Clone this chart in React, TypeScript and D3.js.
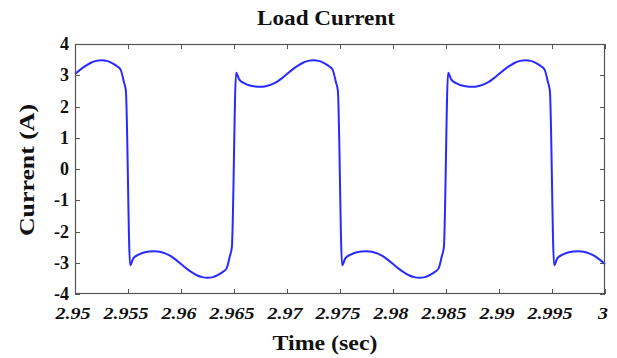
import React, { useEffect, useRef } from 'react';
import * as d3 from 'd3';

// Time samples (sec)
const TIME = [
  2.9500, 2.9505, 2.9510, 2.9515, 2.9520, 2.9525, 2.9530, 2.9535, 2.9540, 2.9543, 2.9546, 2.9548,
  2.9552, 2.9555, 2.9560, 2.9565, 2.9570, 2.9575, 2.9580, 2.9585, 2.9590, 2.9595, 2.9600, 2.9605,
  2.9610, 2.9615, 2.9620, 2.9625, 2.9630, 2.9635, 2.9640, 2.9643, 2.9646, 2.9648,
  2.9652, 2.9655, 2.9660, 2.9665, 2.9670, 2.9675, 2.9680, 2.9685, 2.9690, 2.9695, 2.9700, 2.9705,
  2.9710, 2.9715, 2.9720, 2.9725, 2.9730, 2.9735, 2.9740, 2.9743, 2.9746, 2.9748,
  2.9752, 2.9755, 2.9760, 2.9765, 2.9770, 2.9775, 2.9780, 2.9785, 2.9790, 2.9795, 2.9800, 2.9805,
  2.9810, 2.9815, 2.9820, 2.9825, 2.9830, 2.9835, 2.9840, 2.9843, 2.9846, 2.9848,
  2.9852, 2.9855, 2.9860, 2.9865, 2.9870, 2.9875, 2.9880, 2.9885, 2.9890, 2.9895, 2.9900, 2.9905,
  2.9910, 2.9915, 2.9920, 2.9925, 2.9930, 2.9935, 2.9940, 2.9943, 2.9946, 2.9948,
  2.9952, 2.9955, 2.9960, 2.9965, 2.9970, 2.9975, 2.9980, 2.9985, 2.9990, 2.9995, 3.0000
];

// Load current (A) at each sample
const CURRENT = [
  3.04, 3.18, 3.30, 3.40, 3.46, 3.48, 3.46, 3.39, 3.28, 3.18, 2.80, 2.50,
  -3.08, -2.86, -2.74, -2.67, -2.64, -2.63, -2.65, -2.70, -2.78, -2.90, -3.04, -3.18,
  -3.30, -3.40, -3.46, -3.48, -3.46, -3.39, -3.28, -3.18, -2.80, -2.50,
  3.08, 2.86, 2.74, 2.67, 2.64, 2.63, 2.65, 2.70, 2.78, 2.90, 3.04, 3.18,
  3.30, 3.40, 3.46, 3.48, 3.46, 3.39, 3.28, 3.18, 2.80, 2.50,
  -3.08, -2.86, -2.74, -2.67, -2.64, -2.63, -2.65, -2.70, -2.78, -2.90, -3.04, -3.18,
  -3.30, -3.40, -3.46, -3.48, -3.46, -3.39, -3.28, -3.18, -2.80, -2.50,
  3.08, 2.86, 2.74, 2.67, 2.64, 2.63, 2.65, 2.70, 2.78, 2.90, 3.04, 3.18,
  3.30, 3.40, 3.46, 3.48, 3.46, 3.39, 3.28, 3.18, 2.80, 2.50,
  -3.08, -2.86, -2.74, -2.67, -2.64, -2.63, -2.65, -2.70, -2.78, -2.90, -3.04
];

const X_TICKS = [2.95, 2.955, 2.96, 2.965, 2.97, 2.975, 2.98, 2.985, 2.99, 2.995, 3];
const X_TICK_LABELS = ['2.95', '2.955', '2.96', '2.965', '2.97', '2.975', '2.98', '2.985', '2.99', '2.995', '3'];
const Y_TICKS = [4, 3, 2, 1, 0, -1, -2, -3, -4];
const Y_TICK_LABELS = ['4', '3', '2', '1', '0', '-1', '-2', '-3', '-4'];

const SERIF = '"Liberation Serif", "Times New Roman", serif';

const App = () => {
  const svgRef = useRef<SVGSVGElement>(null);

  useEffect(() => {
    const svg = d3.select(svgRef.current);
    svg.selectAll('*').remove();

    const left = 75, right = 605, top = 44, bottom = 294;

    const x = d3.scaleLinear().domain([2.95, 3]).range([left, right]);
    const y = d3.scaleLinear().domain([-4, 4]).range([bottom, top]);

    svg.append('rect')
      .attr('width', 617).attr('height', 358).attr('fill', '#fff');

    // ticks on all four sides, pointing inward
    const tk = svg.append('g').attr('stroke', '#555').attr('stroke-width', 1);
    X_TICKS.forEach(t => {
      const px = Math.round(x(t)) + 0.5;
      tk.append('line').attr('x1', px).attr('x2', px).attr('y1', bottom).attr('y2', bottom - 5);
      tk.append('line').attr('x1', px).attr('x2', px).attr('y1', top).attr('y2', top + 5);
    });
    Y_TICKS.forEach(v => {
      const py = Math.round(y(v)) + 0.5;
      tk.append('line').attr('x1', left).attr('x2', left + 5).attr('y1', py).attr('y2', py);
      tk.append('line').attr('x1', right).attr('x2', right - 5).attr('y1', py).attr('y2', py);
    });

    // the trace
    const pts = TIME.map((t, i) => [t, CURRENT[i]] as [number, number]);
    const line = d3.line<[number, number]>()
      .x(d => x(d[0]))
      .y(d => y(d[1]))
      .curve(d3.curveMonotoneX);
    svg.append('path')
      .datum(pts)
      .attr('d', line)
      .attr('fill', 'none')
      .attr('stroke', '#2a2aff')
      .attr('stroke-width', 2)
      .attr('stroke-linejoin', 'round');

    // box
    svg.append('rect')
      .attr('x', left + 0.5).attr('y', top + 0.5)
      .attr('width', right - left - 1).attr('height', bottom - top - 1)
      .attr('fill', 'none').attr('stroke', '#555').attr('stroke-width', 1.2);

    // x tick labels
    X_TICKS.forEach((t, i) => {
      const cx = x(t) - 2;
      svg.append('text')
        .attr('transform', `translate(${cx},319) scale(1.18,1)`)
        .attr('text-anchor', 'middle')
        .attr('font-family', SERIF)
        .attr('font-size', 17)
        .attr('font-weight', 'bold')
        .attr('font-style', 'italic')
        .attr('fill', '#111')
        .text(X_TICK_LABELS[i]);
    });

    // y tick labels
    Y_TICKS.forEach((v, i) => {
      svg.append('text')
        .attr('x', 69)
        .attr('y', y(v) + 6)
        .attr('text-anchor', 'end')
        .attr('font-family', SERIF)
        .attr('font-size', 18)
        .attr('font-weight', 'bold')
        .attr('fill', '#111')
        .text(Y_TICK_LABELS[i]);
    });

    // title
    svg.append('text')
      .attr('x', 326).attr('y', 25)
      .attr('text-anchor', 'middle')
      .attr('font-family', SERIF)
      .attr('font-size', 21)
      .attr('font-weight', 'bold')
      .attr('fill', '#111')
      .attr('textLength', 138)
      .attr('lengthAdjust', 'spacingAndGlyphs')
      .text('Load Current');

    // x label
    svg.append('text')
      .attr('x', 325).attr('y', 350)
      .attr('text-anchor', 'middle')
      .attr('font-family', SERIF)
      .attr('font-size', 22)
      .attr('font-weight', 'bold')
      .attr('fill', '#111')
      .attr('textLength', 105)
      .attr('lengthAdjust', 'spacingAndGlyphs')
      .text('Time (sec)');

    // y label
    svg.append('text')
      .attr('transform', 'translate(34,170) rotate(-90)')
      .attr('text-anchor', 'middle')
      .attr('font-family', SERIF)
      .attr('font-size', 22)
      .attr('font-weight', 'bold')
      .attr('fill', '#111')
      .attr('textLength', 132)
      .attr('lengthAdjust', 'spacingAndGlyphs')
      .text('Current (A)');
  }, []);

  return (
    <svg
      ref={svgRef}
      width={617}
      height={358}
      style={{ position: 'absolute', left: 0, top: 0 }}
    />
  );
};

export default App;
